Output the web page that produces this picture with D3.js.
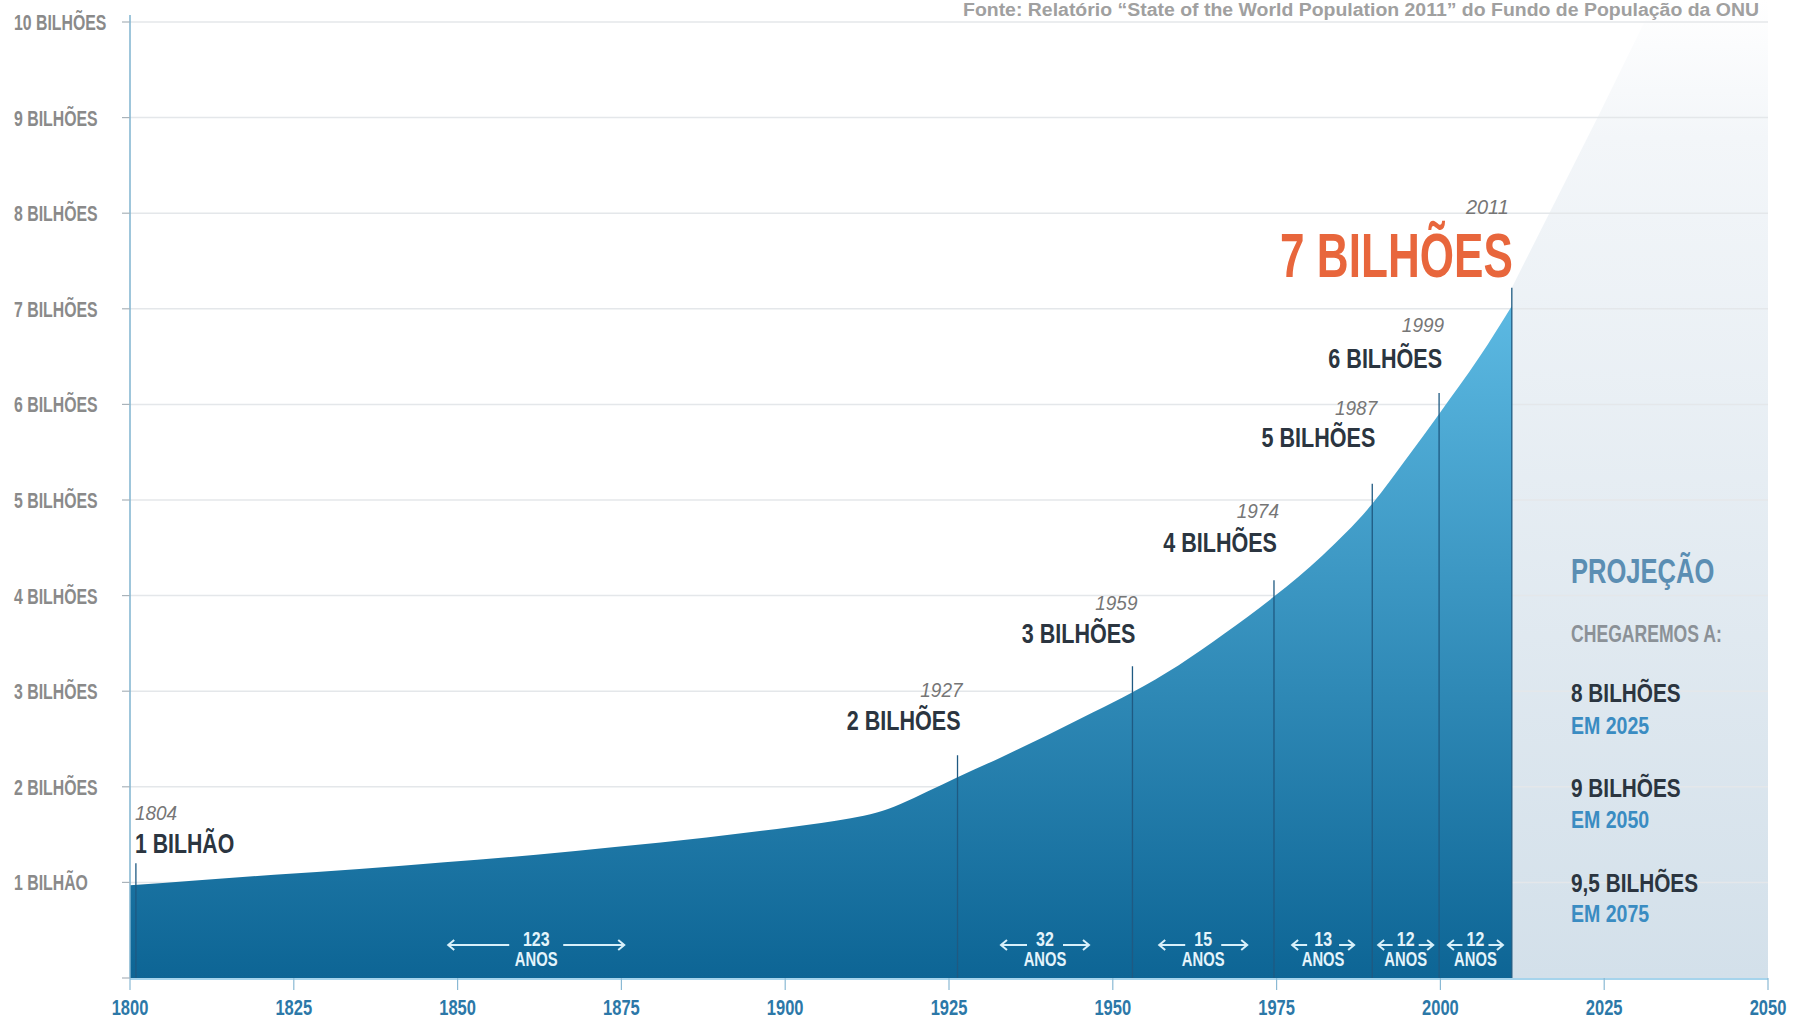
<!DOCTYPE html>
<html>
<head>
<meta charset="utf-8">
<script src="https://cdnjs.cloudflare.com/ajax/libs/d3/7.8.5/d3.min.js"></script>
<style>
  html, body { margin: 0; padding: 0; background: #fff; }
  svg { display: block; }
  text { font-family: "Liberation Sans", Arial, sans-serif; font-weight: bold; }
  .ylab { fill: #8a8a8a; }
  .xlab { fill: #2c78a8; }
  .year { font-weight: normal; font-style: italic; fill: #767676; }
  .value { fill: #2b3540; }
  .big { fill: #e8663c; }
  .gap { fill: #e4f4fb; }
  .proj-title { fill: #5b8eb3; }
  .proj-sub { fill: #8b9197; }
  .proj-em { fill: #3a8cc2; }
  .source { fill: #a0a0a0; }
</style>
</head>
<body>
<svg id="chart" width="1804" height="1021"></svg>
<script>
"use strict";

// world population curve (billions)
const years = [1800, 1810, 1822, 1835, 1848, 1862, 1874, 1888, 1901, 1910, 1914,
  1917.6, 1921.7, 1926.3, 1933, 1940, 1947, 1953, 1960, 1967, 1974.6, 1982, 1989.6,
  1995, 1999.8, 2006, 2010.9];
const population = [0.97, 1.02, 1.08, 1.14, 1.21, 1.29, 1.37, 1.47, 1.58, 1.67, 1.73,
  1.82, 1.95, 2.10, 2.31, 2.54, 2.78, 2.99, 3.27, 3.60, 3.99, 4.42, 4.96,
  5.45, 5.90, 6.50, 7.03];

// milestones: where the vertical marker sits and how high it reaches
const markerX = [1800.9, 1926.3, 1953, 1974.6, 1989.6, 1999.8, 2010.9];
const markerTop = [1.2, 2.33, 3.26, 4.16, 5.17, 6.12, 7.22];
const markerYears = ["1804", "1927", "1959", "1974", "1987", "1999", "2011"];
const markerLabels = ["1 BILHÃO", "2 BILHÕES", "3 BILHÕES", "4 BILHÕES",
  "5 BILHÕES", "6 BILHÕES", "7 BILHÕES"];

// years between milestones
const gapLabels = ["123", "32", "15", "13", "12", "12"];

// projection panel
const projEdgeYears = [2010.9, 2010.9, 2024.2, 2034, 2050, 2050];
const projEdgeValues = [0, 7.22, 9.03, 10.4, 10.4, 0];
const projLabels = ["8 BILHÕES", "9 BILHÕES", "9,5 BILHÕES"];
const projWhen = ["EM 2025", "EM 2050", "EM 2075"];

// axes
const xTicks = [1800, 1825, 1850, 1875, 1900, 1925, 1950, 1975, 2000, 2025, 2050];
const yTicks = [0, 1, 2, 3, 4, 5, 6, 7, 8, 9, 10];
const yTickLabels = ["", "1 BILHÃO", "2 BILHÕES", "3 BILHÕES", "4 BILHÕES", "5 BILHÕES",
  "6 BILHÕES", "7 BILHÕES", "8 BILHÕES", "9 BILHÕES", "10 BILHÕES"];

const sourceText = "Fonte: Relatório “State of the World Population 2011” do Fundo de População da ONU";

const svg = d3.select("#chart");

const x = d3.scaleLinear().domain([1800, 2050]).range([130, 1768]);
const y = d3.scaleLinear().domain([0, 10]).range([978, 22]);

// text helper: condensed look by squeezing horizontally
function label(g, px, py, str, size, sx, cls, anchor) {
  return g.append("text")
    .attr("class", cls)
    .attr("text-anchor", anchor || "start")
    .attr("transform", "translate(" + px + "," + py + ") scale(" + sx + ",1)")
    .style("font-size", size + "px")
    .text(str);
}

// gradients
const defs = svg.append("defs");
const blue = defs.append("linearGradient")
  .attr("id", "blueFill")
  .attr("gradientUnits", "userSpaceOnUse")
  .attr("x1", 0).attr("x2", 0)
  .attr("y1", y(7.2)).attr("y2", y(0));
blue.append("stop").attr("offset", "0%").attr("stop-color", "#5ebbe4");
blue.append("stop").attr("offset", "100%").attr("stop-color", "#0d6595");

const pale = defs.append("linearGradient")
  .attr("id", "projFill")
  .attr("gradientUnits", "userSpaceOnUse")
  .attr("x1", 0).attr("x2", 0)
  .attr("y1", 0).attr("y2", y(0));
pale.append("stop").attr("offset", "0%").attr("stop-color", "#ffffff");
pale.append("stop").attr("offset", "14%").attr("stop-color", "#f3f6f9");
pale.append("stop").attr("offset", "100%").attr("stop-color", "#d3e0ea");

// projection background
const projPts = projEdgeYears.map((d, i) => [x(d), y(projEdgeValues[i])]);
svg.append("path")
  .attr("d", d3.line()(projPts) + "Z")
  .attr("fill", "url(#projFill)");

// gridlines
svg.append("g")
  .selectAll("line")
  .data(yTicks.slice(1))
  .join("line")
  .attr("x1", x(1800)).attr("x2", x(2050))
  .attr("y1", d => y(d)).attr("y2", d => y(d))
  .attr("stroke", "#e4e7ea")
  .attr("stroke-width", 1.5);

// population area
const pts = years.map((d, i) => ({ yr: d, v: population[i] }));
const area = d3.area()
  .x(d => x(d.yr))
  .y0(y(0))
  .y1(d => y(d.v))
  .curve(d3.curveMonotoneX);
svg.append("path")
  .datum(pts)
  .attr("d", area)
  .attr("fill", "url(#blueFill)");

// milestone markers
svg.append("g")
  .selectAll("line")
  .data(markerX)
  .join("line")
  .attr("x1", d => x(d)).attr("x2", d => x(d))
  .attr("y1", (d, i) => y(markerTop[i])).attr("y2", y(0))
  .attr("stroke", "#1f5a82")
  .attr("stroke-width", 1.3);

// milestone labels (offsets above each marker top, in px)
const valueLift = [10, 25, 23, 28, 37, 25, 11];
const yearLift = [33, 33, 33, 34, 32, 36, 63];
const lab = svg.append("g");
markerX.forEach((d, i) => {
  const px = x(d);
  const vb = y(markerTop[i]) - valueLift[i];
  const yb = vb - yearLift[i];
  if (i === 0) {
    label(lab, px - 1, vb, markerLabels[i], 28, 0.76, "value");
    label(lab, px - 1, yb, markerYears[i], 20, 0.95, "year");
  } else if (i === markerX.length - 1) {
    label(lab, px + 1, vb, markerLabels[i], 63, 0.70, "big", "end");
    label(lab, px - 3, yb, markerYears[i], 21, 0.95, "year", "end");
  } else {
    label(lab, px + 3, vb, markerLabels[i], 28, 0.77, "value", "end");
    label(lab, px + 5, yb, markerYears[i], 20, 0.95, "year", "end");
  }
});

// gaps between milestones
const arrowHalf = [88, 44, 44, 31, 27.5, 27.5];
const arrowInner = [27, 18, 18, 16, 13, 13];
const gapG = svg.append("g");
gapLabels.forEach((s, i) => {
  const cx = i === 0 ? x(1862) : (x(markerX[i]) + x(markerX[i + 1])) / 2;
  const ay = 945;
  const h = arrowHalf[i], inn = arrowInner[i];
  const arrow = "M" + (cx - inn) + "," + ay + "H" + (cx - h) +
    "M" + (cx - h + 6) + "," + (ay - 5) + "L" + (cx - h) + "," + ay + "L" + (cx - h + 6) + "," + (ay + 5) +
    "M" + (cx + inn) + "," + ay + "H" + (cx + h) +
    "M" + (cx + h - 6) + "," + (ay - 5) + "L" + (cx + h) + "," + ay + "L" + (cx + h - 6) + "," + (ay + 5);
  gapG.append("path")
    .attr("d", arrow)
    .attr("fill", "none")
    .attr("stroke", "#d8f0fa")
    .attr("stroke-width", 2);
  label(gapG, cx, 946, s, 21, 0.76, "gap", "middle");
  label(gapG, cx, 966, "ANOS", 20, 0.74, "gap", "middle");
});

// y axis
const yAxis = svg.append("g");
yAxis.append("line")
  .attr("x1", x(1800)).attr("x2", x(1800))
  .attr("y1", 15).attr("y2", y(0))
  .attr("stroke", "#7fb3cf").attr("stroke-width", 1.5);
yAxis.selectAll("line.tick")
  .data(yTicks)
  .join("line")
  .attr("class", "tick")
  .attr("x1", x(1800) - 8).attr("x2", x(1800))
  .attr("y1", d => y(d)).attr("y2", d => y(d))
  .attr("stroke", "#a9b3ba").attr("stroke-width", 1.2);
yTicks.forEach((d, i) => {
  if (yTickLabels[i]) label(yAxis, 14, y(d) + 8, yTickLabels[i], 22, 0.72, "ylab");
});

// x axis
const xAxis = svg.append("g");
xAxis.append("line")
  .attr("x1", x(1800)).attr("x2", x(2050))
  .attr("y1", y(0) + 1).attr("y2", y(0) + 1)
  .attr("stroke", "#a6d4ec").attr("stroke-width", 2);
xAxis.selectAll("line.tick")
  .data(xTicks)
  .join("line")
  .attr("class", "tick")
  .attr("x1", d => x(d)).attr("x2", d => x(d))
  .attr("y1", y(0)).attr("y2", y(0) + 12)
  .attr("stroke", "#8ab9d4").attr("stroke-width", 1.2);
xTicks.forEach(d => label(xAxis, x(d), 1015, String(d), 22, 0.75, "xlab", "middle"));

// projection panel text
const pg = svg.append("g");
const px0 = 1571;
label(pg, px0, 583, "PROJEÇÃO", 35, 0.73, "proj-title");
label(pg, px0, 642, "CHEGAREMOS A:", 23, 0.765, "proj-sub");
projLabels.forEach((s, i) => {
  label(pg, px0, 702 + i * 95, s, 26, 0.8, "value");
  label(pg, px0, 734 + i * 94, projWhen[i], 23, 0.85, "proj-em");
});

// source line at the top
svg.append("text")
  .attr("class", "source")
  .attr("x", 963).attr("y", 16)
  .attr("textLength", 796)
  .attr("lengthAdjust", "spacingAndGlyphs")
  .style("font-size", "18px")
  .text(sourceText);
</script>
</body>
</html>
